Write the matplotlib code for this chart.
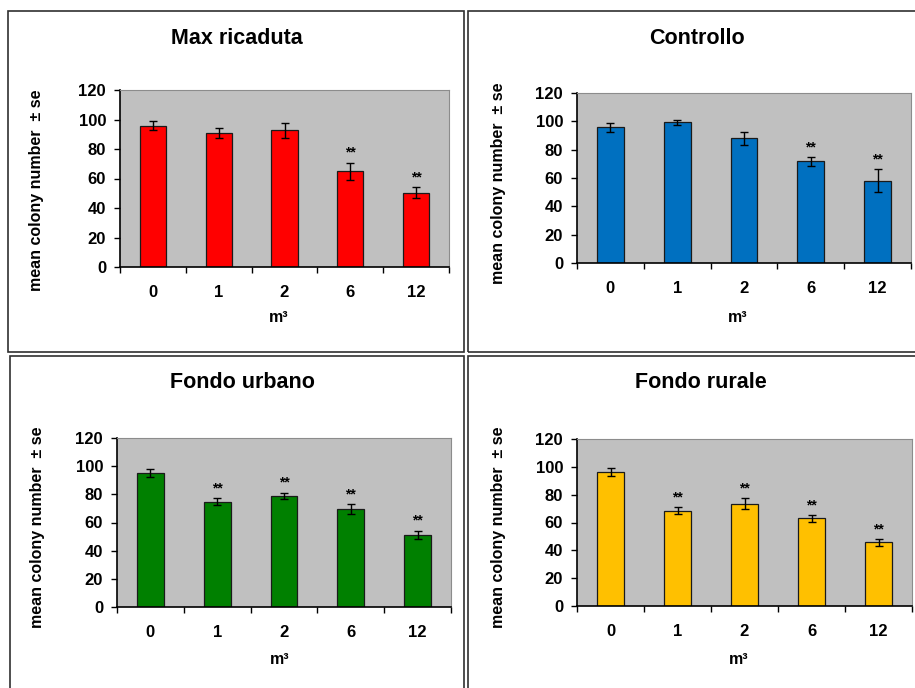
import numpy as np
import matplotlib.pyplot as plt
from matplotlib.patches import Rectangle

plt.rcParams['font.family'] = ['Liberation Sans', 'DejaVu Sans']
plt.rcParams['font.weight'] = 'bold'

W, H = 915, 688

categories = ['0', '1', '2', '6', '12']

titles = ['Max ricaduta', 'Controllo', 'Fondo urbano', 'Fondo rurale']
colors = ['#FF0000', '#0070C0', '#008000', '#FFC000']

max_ricaduta = [95.8, 91.0, 92.6, 65.0, 50.5]
max_ricaduta_se = [3.0, 3.5, 4.9, 5.7, 3.6]
controllo = [95.7, 99.2, 87.9, 71.8, 58.1]
controllo_se = [3.2, 1.5, 4.7, 3.2, 8.1]
fondo_urbano = [95.2, 74.7, 79.0, 69.8, 51.4]
fondo_urbano_se = [3.0, 2.4, 2.2, 3.5, 2.9]
fondo_rurale = [96.1, 68.6, 73.6, 62.9, 45.7]
fondo_rurale_se = [3.0, 2.5, 3.8, 2.6, 2.6]

# which bars carry the ** mark
signif = [[3, 4], [3, 4], [1, 2, 3, 4], [1, 2, 3, 4]]

means = [max_ricaduta, controllo, fondo_urbano, fondo_rurale]
errs = [max_ricaduta_se, controllo_se, fondo_urbano_se, fondo_rurale_se]

# layout in pixels: (left, top, right, bottom) of plot area
axes_px = [(120, 90, 449, 267), (577, 93, 911, 263),
           (117, 438, 451, 607), (577, 439, 912, 606)]
# panel frames (left, top, right, bottom)
frames_px = [(8, 11, 464, 352), (468, 11, 920, 352),
             (10, 356, 464, 695), (468, 356, 920, 695)]
title_px = [(237, 38), (697, 38), (242, 383), (701, 383)]
ylab_px = [(37, 190), (498, 183), (38, 527), (498, 527)]
xlab_px = [(279, 318), (738, 317), (280, 660), (739, 659)]


def fx(x):
    return x / W


def fy(y):
    return 1 - y / H


fig = plt.figure(figsize=(W / 100, H / 100), dpi=100)

for i in range(4):
    l, t, r, b = frames_px[i]
    fig.add_artist(Rectangle((fx(l), fy(b)), fx(r - l), (b - t) / H,
                             transform=fig.transFigure, fill=False,
                             edgecolor='#303030', linewidth=1.2, clip_on=False))

    l, t, r, b = axes_px[i]
    ax = fig.add_axes([fx(l), fy(b), fx(r - l), (b - t) / H])
    ax.set_facecolor('#C0C0C0')
    x = np.arange(len(categories))
    ax.bar(x, means[i], width=0.4, color=colors[i], edgecolor='#1a1a1a',
           linewidth=0.9, zorder=2)
    ax.errorbar(x, means[i], yerr=errs[i], fmt='none', ecolor='black',
                elinewidth=1, capsize=3, capthick=1, zorder=3)
    for k in signif[i]:
        ax.annotate('**', (x[k], means[i][k] + errs[i][k]), xytext=(0, 2),
                    textcoords='offset points', ha='center', va='bottom',
                    fontsize=10, fontweight='bold')

    ax.set_xlim(-0.5, 4.5)
    ax.set_ylim(0, 120)
    ax.set_yticks(np.arange(0, 121, 20))
    ax.tick_params(axis='y', direction='out', length=4, width=1,
                   labelsize=12, pad=6)
    ax.set_xticks(np.arange(-0.5, 5, 1))
    ax.set_xticklabels([])
    ax.tick_params(axis='x', which='major', direction='out', length=4, width=1)
    ax.set_xticks(x, minor=True)
    ax.set_xticklabels(categories, minor=True)
    ax.tick_params(axis='x', which='minor', length=0, labelsize=12, pad=13)
    for lab in ax.get_xticklabels(minor=True) + ax.get_yticklabels():
        lab.set_fontweight('bold')
    ax.spines['left'].set_color('black')
    ax.spines['bottom'].set_color('black')
    ax.spines['left'].set_linewidth(1.2)
    ax.spines['bottom'].set_linewidth(1.2)
    ax.spines['top'].set_color('#8c8c8c')
    ax.spines['right'].set_color('#8c8c8c')

    tx, ty = title_px[i]
    fig.text(fx(tx), fy(ty), titles[i], ha='center', va='center',
             fontsize=15.5, fontweight='bold')
    tx, ty = ylab_px[i]
    fig.text(fx(tx), fy(ty), 'mean colony number  \u00b1 se', ha='center',
             va='center', rotation=90, fontsize=11.5, fontweight='bold')
    tx, ty = xlab_px[i]
    fig.text(fx(tx), fy(ty), 'm\u00b3', ha='center', va='center',
             fontsize=11.5, fontweight='bold')

plt.savefig('out.png', dpi=100)
